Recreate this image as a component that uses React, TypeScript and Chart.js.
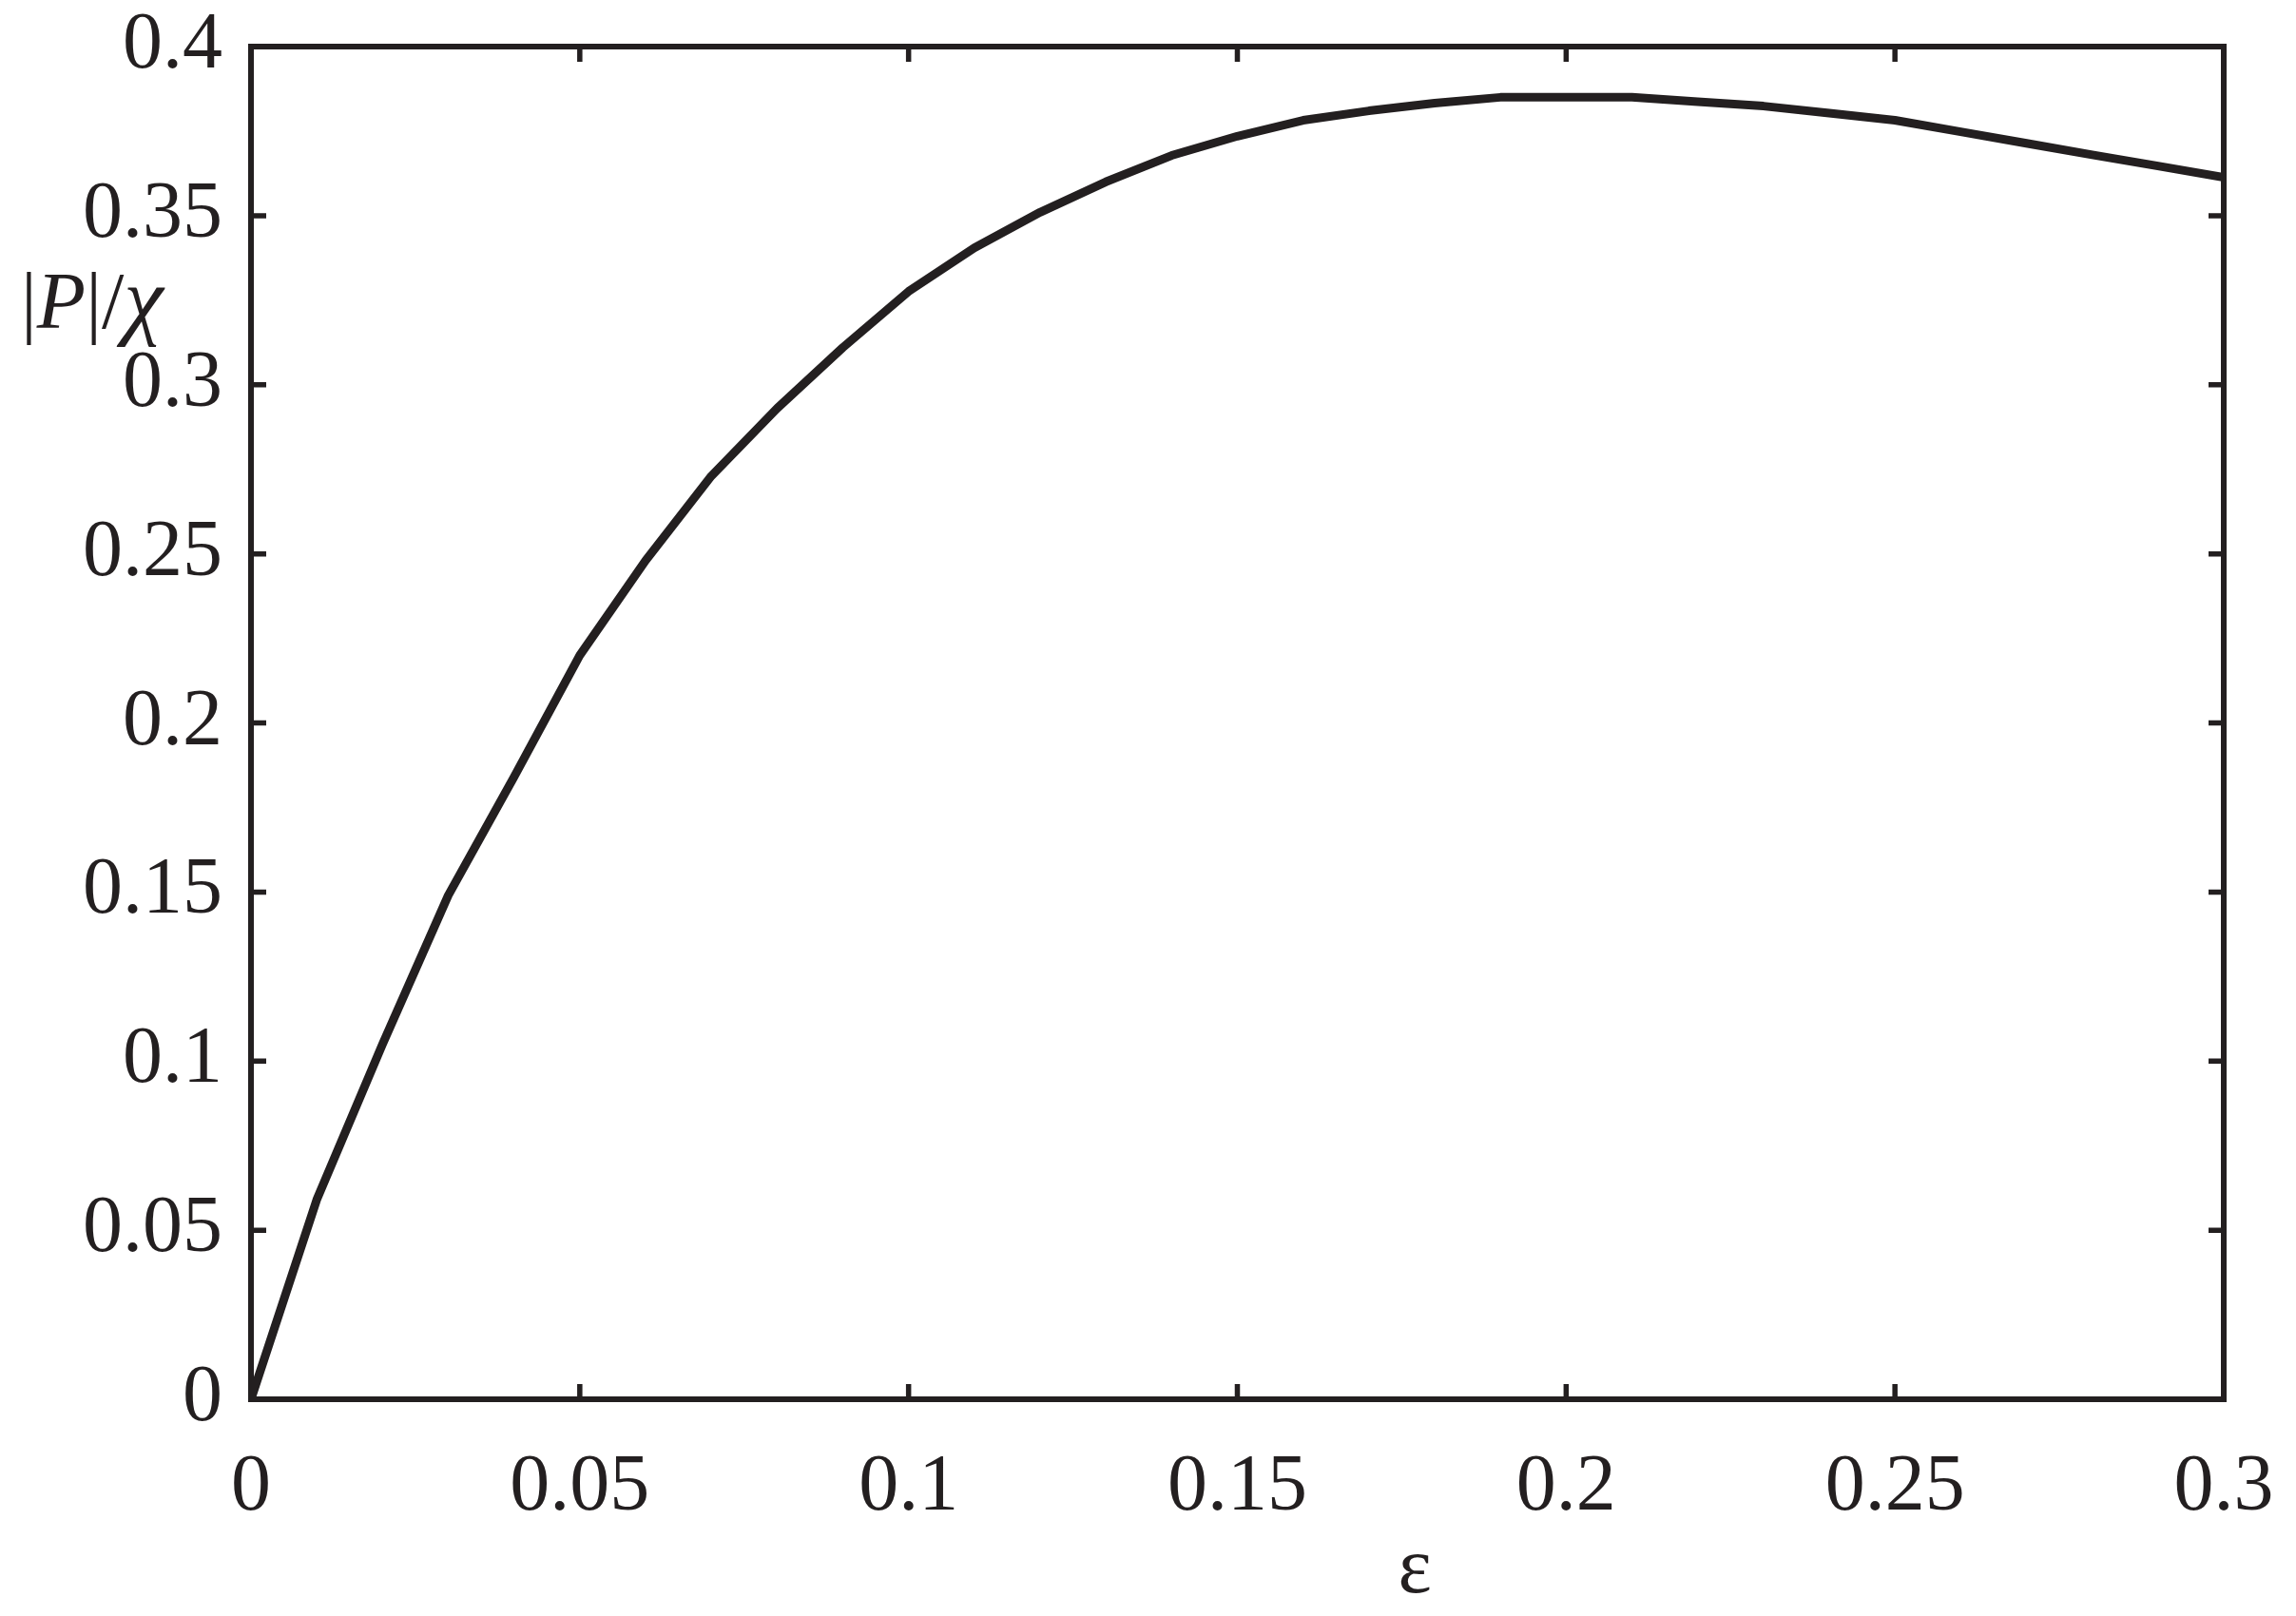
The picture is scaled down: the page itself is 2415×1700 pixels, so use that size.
import React, { useEffect, useRef } from "react";
import { Chart, registerables } from "chart.js";

Chart.register(...registerables);

// ---- data ----
const epsilonValues = [
  0, 0.01, 0.02, 0.03, 0.04, 0.05, 0.06, 0.07, 0.08, 0.09, 0.1,
  0.11, 0.12, 0.13, 0.14, 0.15, 0.16, 0.17, 0.18, 0.19, 0.2,
  0.21, 0.22, 0.23, 0.24, 0.25, 0.26, 0.27, 0.28, 0.29, 0.3,
];
const pOverChi = [
  0, 0.059, 0.105, 0.149, 0.184, 0.22, 0.248, 0.273, 0.293, 0.311, 0.3276,
  0.3405, 0.351, 0.36, 0.3678, 0.3735, 0.3782, 0.381, 0.3833, 0.385, 0.385,
  0.385, 0.3837, 0.3824, 0.3803, 0.3782, 0.3748, 0.3714, 0.368, 0.3647, 0.3613,
];
const xTickValues = [0, 0.05, 0.1, 0.15, 0.2, 0.25, 0.3];
const xTickLabels = ["0", "0.05", "0.1", "0.15", "0.2", "0.25", "0.3"];
const yTickValues = [0, 0.05, 0.1, 0.15, 0.2, 0.25, 0.3, 0.35, 0.4];
const yTickLabels = ["0", "0.05", "0.1", "0.15", "0.2", "0.25", "0.3", "0.35", "0.4"];
const xAxisTitle = "ε";
const yAxisTitleParts = [
  { text: "|", italic: false, scale: 1 },
  { text: "P", italic: true, scale: 1 },
  { text: "|/", italic: false, scale: 1 },
  { text: "χ", italic: true, scale: 1.12 },
];

const INK = "#231f20";
const FONT_FAMILY = "'Liberation Serif', 'Times New Roman', serif";
const FONT_SIZE = 84;

const frameAndTitles = {
  id: "frameAndTitles",
  afterDatasetsDraw(chart: any) {
    const { ctx, chartArea } = chart;
    const { left, right, top, bottom } = chartArea;
    const xs = chart.scales.x;
    const ys = chart.scales.y;
    ctx.save();
    ctx.strokeStyle = INK;
    ctx.lineCap = "butt";
    // inward tick marks on all four sides
    const tickLen = 16;
    ctx.lineWidth = 5.5;
    ctx.beginPath();
    xTickValues.forEach((v) => {
      const px = xs.getPixelForValue(v);
      ctx.moveTo(px, bottom);
      ctx.lineTo(px, bottom - tickLen);
      ctx.moveTo(px, top);
      ctx.lineTo(px, top + tickLen);
    });
    yTickValues.forEach((v) => {
      const py = ys.getPixelForValue(v);
      ctx.moveTo(left, py);
      ctx.lineTo(left + tickLen, py);
      ctx.moveTo(right, py);
      ctx.lineTo(right - tickLen, py);
    });
    ctx.stroke();
    // frame
    ctx.lineWidth = 6;
    ctx.lineJoin = "miter";
    ctx.strokeRect(left, top, right - left, bottom - top);

    // axis titles
    ctx.fillStyle = INK;
    ctx.textBaseline = "alphabetic";
    ctx.textAlign = "left";
    ctx.font = `${FONT_SIZE}px ${FONT_FAMILY}`;
    const xw = ctx.measureText(xAxisTitle).width;
    const xCenter = left + 0.59 * (right - left);
    ctx.fillText(xAxisTitle, xCenter - xw / 2, bottom + 203);

    let cx = 22;
    const baseY = top + 0.208 * (bottom - top);
    yAxisTitleParts.forEach((p) => {
      ctx.font = `${p.italic ? "italic " : ""}${Math.round(FONT_SIZE * p.scale)}px ${FONT_FAMILY}`;
      ctx.fillText(p.text, cx, baseY);
      cx += ctx.measureText(p.text).width;
    });
    ctx.restore();
  },
};

export default function App() {
  const canvasRef = useRef<HTMLCanvasElement | null>(null);

  useEffect(() => {
    document.body.style.margin = "0";
    const canvas = canvasRef.current;
    if (!canvas) return;
    const chart = new Chart(canvas, {
      type: "line",
      data: {
        datasets: [
          {
            data: epsilonValues.map((x, i) => ({ x, y: pOverChi[i] })),
            borderColor: INK,
            borderWidth: 9,
            pointRadius: 0,
            tension: 0,
            fill: false,
            borderJoinStyle: "round",
            borderCapStyle: "round",
          },
        ],
      },
      options: {
        animation: false,
        responsive: false,
        devicePixelRatio: 1,
        layout: { padding: { top: 49, right: 76, left: 0, bottom: 0 } },
        plugins: {
          legend: { display: false },
          tooltip: { enabled: false },
          title: { display: false },
        },
        scales: {
          x: {
            type: "linear",
            min: 0,
            max: 0.3,
            grid: { display: false, drawTicks: false },
            border: { display: false },
            afterBuildTicks: (s: any) => {
              s.ticks = xTickValues.map((v) => ({ value: v }));
            },
            afterFit: (s: any) => {
              s.height = 228;
              s.paddingLeft = 0;
              s.paddingRight = 0;
            },
            ticks: {
              autoSkip: false,
              maxRotation: 0,
              minRotation: 0,
              padding: 44,
              color: INK,
              font: { family: FONT_FAMILY, size: FONT_SIZE },
              callback: (_v: any, i: number) => xTickLabels[i],
            },
          },
          y: {
            type: "linear",
            min: 0,
            max: 0.4,
            grid: { display: false, drawTicks: false },
            border: { display: false },
            afterBuildTicks: (s: any) => {
              s.ticks = yTickValues.map((v) => ({ value: v }));
            },
            afterFit: (s: any) => {
              s.width = 264;
              s.paddingTop = 0;
              s.paddingBottom = 0;
            },
            ticks: {
              autoSkip: false,
              padding: 30,
              color: INK,
              font: { family: FONT_FAMILY, size: FONT_SIZE },
              callback: (_v: any, i: number) => yTickLabels[i],
            },
          },
        },
      },
      plugins: [frameAndTitles],
    });
    return () => chart.destroy();
  }, []);

  return (
    <div style={{ width: 2415, height: 1700, background: "#fff" }}>
      <canvas ref={canvasRef} width={2415} height={1700} style={{ width: 2415, height: 1700, display: "block" }} />
    </div>
  );
}
